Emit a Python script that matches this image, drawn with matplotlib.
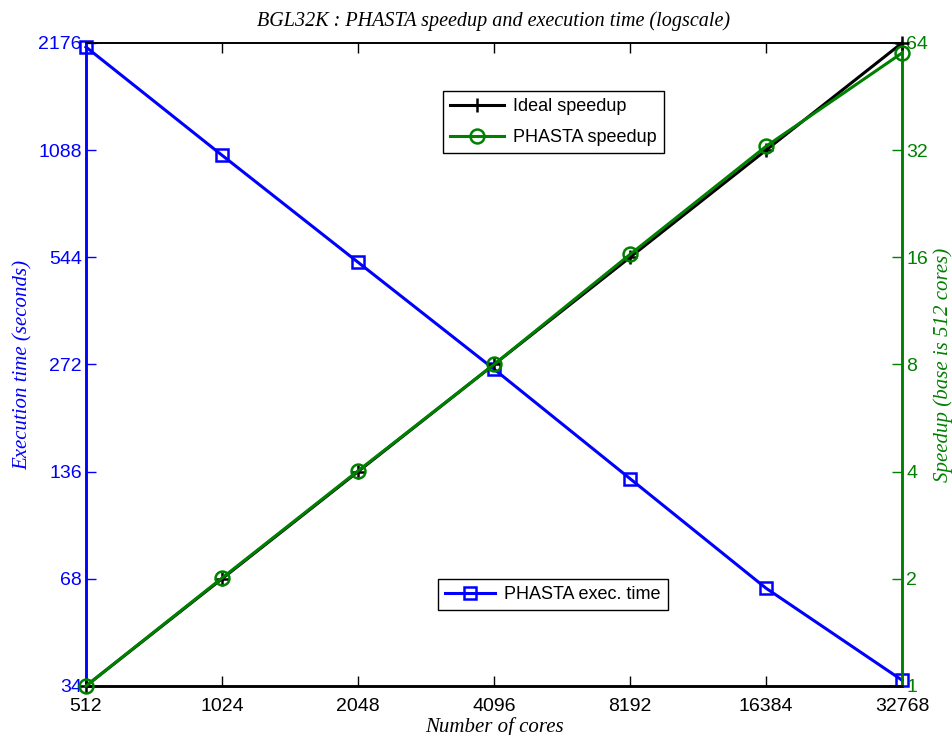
import numpy as np
import matplotlib.pyplot as plt
from matplotlib.ticker import FixedLocator, NullLocator

# Data
cores = [512, 1024, 2048, 4096, 8192, 16384, 32768]
exec_time = [2120, 1053, 527, 264, 130, 64, 35.3]
ideal_speedup = [1, 2, 4, 8, 16, 32, 64]
phasta_speedup = [1, 2.01, 4.02, 8.0, 16.3, 32.8, 60.0]

time_ticks = [34, 68, 136, 272, 544, 1088, 2176]
speed_ticks = [1, 2, 4, 8, 16, 32, 64]

BLUE = '#0000ff'
GREEN = '#008000'

plt.rcParams['font.family'] = ['Liberation Sans', 'DejaVu Sans']

fig = plt.figure(figsize=(9.53, 7.35), dpi=100)
ax1 = fig.add_axes([0.0902, 0.0667, 0.8563, 0.8748])
ax2 = ax1.twinx()

# Execution time (left axis)
l_time, = ax1.plot(cores, exec_time, '-s', color=BLUE, lw=2.2, ms=8,
                   mfc='none', mew=1.8, label='PHASTA exec. time',
                   clip_on=False, zorder=3)
ax1.set_xscale('log', base=2)
ax1.set_yscale('log', base=2)
ax1.set_xlim(512, 32768)
ax1.set_ylim(34, 2176)
ax1.xaxis.set_major_locator(FixedLocator(cores))
ax1.xaxis.set_minor_locator(NullLocator())
ax1.set_xticklabels([str(c) for c in cores])
ax1.yaxis.set_major_locator(FixedLocator(time_ticks))
ax1.yaxis.set_minor_locator(NullLocator())
ax1.set_yticklabels([str(t) for t in time_ticks])
ax1.tick_params(axis='x', direction='in', top=True, length=7, width=1,
                labelsize=14, pad=9)
ax1.tick_params(axis='y', direction='in', length=7, width=1, colors=BLUE,
                labelsize=14, pad=3)

# Speedup (right axis)
l_ideal, = ax2.plot(cores, ideal_speedup, '-+', color='black', lw=2.2, ms=10,
                    mew=1.8, label='Ideal speedup', clip_on=False, zorder=3)
l_phasta, = ax2.plot(cores, phasta_speedup, '-o', color=GREEN, lw=2.2, ms=10,
                     mfc='none', mew=1.8, label='PHASTA speedup',
                     clip_on=False, zorder=4)
ax2.set_yscale('log', base=2)
ax2.set_ylim(1, 64)
ax2.yaxis.set_major_locator(FixedLocator(speed_ticks))
ax2.yaxis.set_minor_locator(NullLocator())
ax2.set_yticklabels([str(s) for s in speed_ticks])
ax2.tick_params(axis='y', direction='in', length=7, width=1, colors=GREEN,
                labelsize=14, pad=3)

for ax in (ax1, ax2):
    ax.spines['left'].set_color(BLUE)
    ax.spines['right'].set_color(GREEN)
    ax.spines['left'].set_linewidth(1.8)
    ax.spines['right'].set_linewidth(1.8)
    ax.spines['top'].set_linewidth(1.2)
    ax.spines['bottom'].set_linewidth(1.8)

serif = dict(family='Liberation Serif', style='italic', fontsize=15)
ax1.set_title('BGL32K : PHASTA speedup and execution time (logscale)',
              pad=12, fontsize=14.5, family='Liberation Serif', style='italic')
ax1.set_xlabel('Number of cores', labelpad=1, **serif)
ax1.set_ylabel('Execution time (seconds)', color=BLUE, labelpad=4, **serif)
ax2.set_ylabel('Speedup (base is 512 cores)', color=GREEN, labelpad=4, **serif)

leg_kw = dict(fancybox=False, edgecolor='black', framealpha=1, fontsize=13,
              borderpad=0.4, handletextpad=0.5, borderaxespad=0)
leg_speed = ax2.legend(handles=[l_ideal, l_phasta], loc='upper left',
                       bbox_to_anchor=(0.437, 0.925), labelspacing=0.75,
                       handlelength=3.0, **leg_kw)
leg_speed.get_frame().set_linewidth(1.0)
ax2.add_artist(leg_speed)
leg_time = ax2.legend(handles=[l_time], loc='upper left',
                      bbox_to_anchor=(0.431, 0.167), handlelength=2.8,
                      **leg_kw)
leg_time.get_frame().set_linewidth(1.0)

fig.savefig('out.png', dpi=100)
